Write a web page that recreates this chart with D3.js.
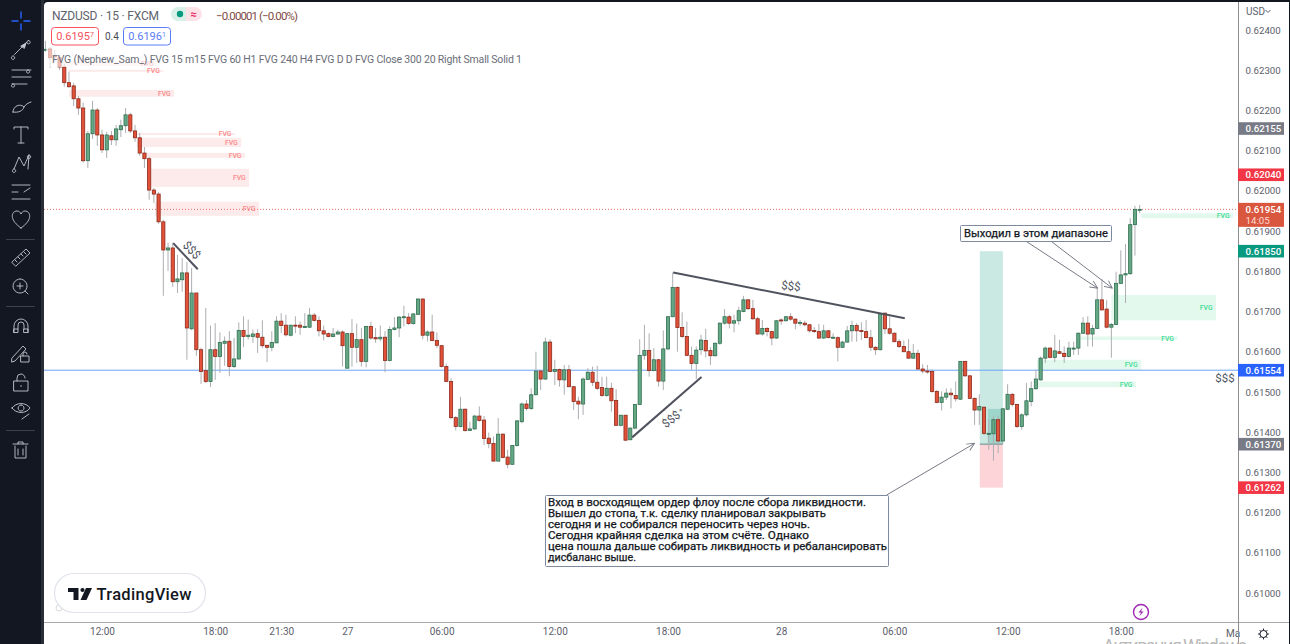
<!DOCTYPE html>
<html>
<head>
<meta charset="utf-8">
<title>NZDUSD 15</title>
<script src="https://cdn.jsdelivr.net/npm/d3@7/dist/d3.min.js"></script>
<style>
html,body{margin:0;padding:0;background:#fff;overflow:hidden}
svg{display:block}
text{font-family:Roboto,"Liberation Sans",sans-serif}
</style>
</head>
<body>
<svg id="chart" width="1290" height="644"></svg>
<script>
// Quote values are in points (1 point = 0.00001).
const opens = [
62350,62353,62336,62331,62308,62269,62261,62229,62206,62075,
62142,62201,62139,62102,62137,62127,62152,62162,62189,62149,
62132,62094,62080,62002,61992,61923,61853,61858,61774,61779,
61796,61657,61746,61605,61553,61526,61605,61588,61621,61626,
61563,61582,61653,61638,61638,61645,61636,61616,61611,61622,
61676,61666,61641,61666,61666,61660,61661,61691,61678,61652,
61645,61638,61644,61649,61559,61645,61611,61630,61576,61663,
61635,61632,61636,61578,61655,61659,61686,61686,61670,61693,
61731,61641,61649,61628,61615,61563,61526,61436,61414,61457,
61404,61408,61440,61430,61385,61372,61328,61395,61338,61320,
61367,61426,61470,61459,61493,61552,61532,61624,61551,61556,
61530,61555,61513,61477,61470,61531,61549,61524,61511,61491,
61509,61479,61417,61442,61381,61410,61469,61591,61603,61553,
61580,61527,61607,61687,61760,61660,61638,61591,61571,61605,
61628,61603,61590,61621,61671,61687,61671,61677,61700,61729,
61707,61682,61644,61658,61650,61634,61679,61677,61687,61681,
61671,61671,61667,61653,61650,61634,61652,61635,61635,61611,
61624,61652,61665,61653,61650,61635,61611,61605,61696,61657,
61646,61625,61613,61600,61584,61596,61557,61552,61551,61501,
61474,61487,61497,61491,61482,61576,61540,61484,61455,61462,
61396,61396,61431,61378,61457,61494,61469,61414,61443,61476,
61508,61530,61584,61609,61586,61600,61596,61588,61608,61609,
61646,61671,61644,61658,61729,61706,61661,61668,61770,61791,
61794,61916,61954];
const closes = [
62352,62331,62333,62308,62269,62259,62229,62206,62075,62142,
62201,62139,62102,62139,62127,62154,62162,62189,62149,62132,
62094,62080,62002,61992,61923,61853,61858,61774,61781,61796,
61659,61746,61605,61551,61526,61605,61588,61623,61626,61563,
61582,61653,61638,61641,61644,61636,61615,61611,61623,61676,
61665,61642,61666,61665,61661,61663,61691,61678,61652,61644,
61638,61644,61649,61615,61645,61611,61630,61576,61663,61634,
61632,61636,61578,61655,61659,61686,61687,61670,61694,61731,
61641,61649,61628,61616,61563,61526,61436,61414,61457,61404,
61408,61440,61429,61384,61372,61328,61395,61337,61320,61367,
61428,61470,61459,61493,61552,61532,61624,61551,61556,61530,
61555,61513,61476,61470,61532,61549,61524,61509,61491,61509,
61478,61417,61442,61380,61410,61469,61591,61603,61553,61580,
61527,61607,61687,61760,61660,61638,61591,61571,61604,61629,
61602,61590,61621,61671,61687,61671,61677,61702,61729,61707,
61682,61644,61658,61650,61634,61677,61677,61687,61681,61671,
61673,61667,61652,61650,61634,61652,61635,61636,61611,61624,
61652,61665,61652,61650,61635,61611,61605,61694,61657,61646,
61625,61613,61600,61584,61596,61557,61552,61551,61501,61474,
61487,61497,61493,61483,61576,61540,61484,61455,61464,61397,
61397,61431,61378,61458,61494,61469,61414,61443,61478,61508,
61532,61584,61609,61586,61602,61596,61588,61609,61609,61646,
61671,61644,61658,61729,61704,61661,61668,61770,61791,61794,
61916,61954,61954];
const highs = [
62373,62358,62351,62338,62316,62296,62269,62236,62219,62149,
62224,62206,62152,62147,62149,62164,62177,62206,62194,62164,
62144,62109,62085,62007,61997,61928,61871,61871,61841,61833,
61823,61808,61746,61610,61709,61665,61671,61648,61638,61651,
61634,61673,61688,61680,61655,61656,61678,61617,61651,61688,
61696,61692,61666,61688,61675,61696,61709,61696,61688,61665,
61648,61659,61655,61653,61645,61681,61670,61659,61663,61675,
61659,61665,61651,61663,61686,61689,61714,61696,61696,61733,
61733,61653,61692,61648,61617,61570,61534,61440,61488,61459,
61426,61443,61464,61440,61399,61389,61435,61397,61356,61368,
61430,61474,61480,61509,61600,61555,61635,61631,61580,61558,
61567,61567,61515,61488,61536,61559,61563,61565,61538,61538,
61523,61507,61443,61443,61412,61470,61631,61667,61646,61609,
61582,61653,61689,61797,61762,61698,61675,61613,61613,61642,
61657,61611,61623,61673,61706,61692,61692,61712,61739,61731,
61729,61687,61679,61661,61652,61679,61683,61689,61696,61683,
61679,61677,61669,61661,61669,61667,61654,61646,61638,61627,
61664,61677,61671,61673,61679,61654,61614,61697,61697,61687,
61648,61631,61628,61631,61619,61605,61569,61567,61556,61505,
61501,61509,61509,61526,61577,61577,61542,61486,61494,61464,
61431,61439,61441,61460,61519,61497,61470,61447,61522,61526,
61555,61588,61613,61611,61642,61630,61613,61625,61625,61648,
61686,61688,61667,61758,61781,61729,61671,61799,61852,61868,
61932,61963,61965];
const lows = [
62346,62306,62321,62301,62259,62256,62211,62189,62070,62057,
62129,62112,62094,62082,62114,62112,62134,62144,62144,62122,
62087,62057,61978,61970,61918,61739,61801,61761,61746,61749,
61580,61654,61590,61520,61522,61512,61530,61547,61565,61539,
61559,61580,61611,61630,61622,61597,61609,61574,61601,61622,
61646,61638,61638,61646,61642,61659,61659,61675,61638,61628,
61636,61636,61642,61563,61559,61563,61572,61563,61561,61630,
61622,61626,61549,61576,61653,61636,61663,61667,61667,61692,
61631,61626,61626,61609,61561,61526,61432,61404,61412,61401,
61403,61406,61426,61368,61360,61327,61327,61335,61310,61319,
61364,61422,61454,61455,61491,61505,61530,61549,61517,61513,
61493,61512,61455,61432,61443,61530,61515,61505,61488,61488,
61451,61416,61414,61378,61381,61407,61468,61580,61538,61551,
61513,61505,61604,61686,61600,61634,61590,61555,61532,61592,
61586,61567,61588,61617,61667,61658,61648,61667,61698,61704,
61679,61642,61640,61638,61616,61632,61667,61675,61677,61656,
61664,61663,61648,61646,61632,61632,61634,61632,61576,61610,
61622,61625,61625,61629,61634,61602,61592,61603,61644,61642,
61623,61609,61599,61582,61582,61556,61546,61545,61498,61472,
61454,61480,61459,61476,61480,61538,61483,61418,61418,61393,
61356,61329,61348,61372,61455,61464,61410,61406,61439,61464,
61505,61528,61572,61584,61574,61595,61572,61586,61592,61592,
61644,61613,61613,61657,61702,61658,61585,61666,61769,61721,
61791,61839,61944];

// Price axis ticks and time axis ticks (bar number -> label).
const priceTicks = [62400,62300,62200,62100,62000,61900,61800,61700,61600,61500,61400,61300,61200,61100,61000];
const timeBars = [12,36,50,64,84,108,132,156,180,204,228];
const timeNames = ["12:00","18:00","21:30","27","06:00","12:00","18:00","28","06:00","12:00","18:00"];

// Fair value gaps: first bar, last bar, upper and lower price.
const bearGapStart = [3.5,4.8,5,19.4,19.4,20.7,21.5,23.2];
const bearGapEnd   = [23.7,25,27.3,40.2,41.5,42.3,43.2,45.3];
const bearGapHigh  = [62323,62301,62251,62144,62132,62094,62055,61973];
const bearGapLow   = [62311,62296,62234,62139,62109,62082,62010,61938];
const bullGapStart = [232.3,226,219.5,210.2,210.2];
const bullGapEnd   = [251.8,248.2,240,232.3,231.2];
const bullGapHigh  = [61944,61741,61638,61580,61526];
const bullGapLow   = [61932,61678,61629,61555,61512];

// Long position tool.
const longBars = [198.1,203];
const longProfitBars = [199.8,203];
const longTarget = 61850, longEntry = 61370, longStop = 61262, longCurrent = 61458;

// Horizontal levels.
const lastPrice = 61954, blueLevel = 61554;

// Drawn lines: [bar, price, bar, price].
const trendLines = [
  [27.1,61870,32.3,61805],
  [124.4,61387,139.1,61537],
  [133.1,61797,182.2,61683]
];
const arrowLines = [
  [178.4,61244,197,61372],
  [208,61874,223.1,61758],
  [213.3,61874,226.2,61758]
];

// Tags on the price axis.
const tagValues = [62155,62040,61850,61554,61370,61262];
const tagColors = ["#787b86","#f23645","#089981","#2962ff","#787b86","#f23645"];

const noteLines = [
  "Вход в восходящем ордер флоу после сбора ликвидности.",
  "Вышел до стопа, т.к. сделку планировал закрывать",
  "сегодня и не собирался переносить через ночь.",
  "Сегодня крайняя сделка на этом счёте. Однако",
  "цена пошла дальше собирать ликвидность и ребалансировать",
  "дисбаланс выше."
];
const legendText = "FVG (Nephew_Sam_) FVG 15 m15 FVG 60 H1 FVG 240 H4 FVG D D FVG Close 300 20 Right Small Solid 1";

const W = 1290, H = 644, plotLeft = 44, plotRight = 1238, plotBottom = 622;
const x = d3.scaleLinear().domain([0,252]).range([45.4,1234]);
const y = d3.scaleLinear().domain([62400,61000]).range([30,593]);
const fmt = v => (v/100000).toFixed(5);

const svg = d3.select("#chart");
const defs = svg.append("defs");
defs.append("clipPath").attr("id","plot").append("rect")
  .attr("x",plotLeft).attr("y",0).attr("width",plotRight-plotLeft).attr("height",plotBottom);
defs.append("marker").attr("id","head").attr("viewBox","0 0 10 10")
  .attr("refX",9.5).attr("refY",5).attr("markerWidth",9).attr("markerHeight",9)
  .attr("markerUnits","userSpaceOnUse").attr("orient","auto")
  .append("path").attr("d","M1,1 L9.5,5 L1,9").attr("fill","none").attr("stroke","#787b86").attr("stroke-width",1);

svg.append("rect").attr("width",W).attr("height",H).attr("fill","#fff");
const plot = svg.append("g").attr("clip-path","url(#plot)");

// Fair value gap zones
function gaps(starts, ends, tops, bottoms, fill, ink){
  const g = plot.append("g");
  const idx = d3.range(starts.length);
  g.selectAll("rect").data(idx).join("rect")
    .attr("x",i=>x(starts[i])).attr("width",i=>x(ends[i])-x(starts[i]))
    .attr("y",i=>y(tops[i])).attr("height",i=>y(bottoms[i])-y(tops[i]))
    .attr("fill",fill);
  g.selectAll("text").data(idx).join("text")
    .attr("x",i=>x(ends[i])-3.5).attr("y",i=>(y(tops[i])+y(bottoms[i]))/2+2.4)
    .attr("text-anchor","end").attr("font-size",6.8).attr("font-weight",500)
    .attr("fill",ink).text("FVG");
}
gaps(bearGapStart,bearGapEnd,bearGapHigh,bearGapLow,"#fdeaea","#fb8a8a");
gaps(bullGapStart,bullGapEnd,bullGapHigh,bullGapLow,"#e3f9ee","#3fdc94");

// Long position tool
plot.append("rect").attr("x",x(longBars[0])).attr("width",x(longBars[1])-x(longBars[0]))
  .attr("y",y(longTarget)).attr("height",y(longEntry)-y(longTarget)).attr("fill","#cbe9e3");
plot.append("rect").attr("x",x(longBars[0])).attr("width",x(longBars[1])-x(longBars[0]))
  .attr("y",y(longEntry)).attr("height",y(longStop)-y(longEntry)).attr("fill","#fdd5d8");
plot.append("rect").attr("x",x(longProfitBars[0])).attr("width",x(longProfitBars[1])-x(longProfitBars[0]))
  .attr("y",y(longCurrent)).attr("height",y(longEntry)-y(longCurrent)).attr("fill","#9ed6cb");
plot.append("line").attr("x1",x(longBars[0])).attr("x2",x(longBars[1]))
  .attr("y1",y(longEntry)).attr("y2",y(longEntry)).attr("stroke","#8fa8a5").attr("stroke-width",1.5);

// Horizontal levels
plot.append("line").attr("x1",plotLeft).attr("x2",plotRight).attr("y1",y(blueLevel)).attr("y2",y(blueLevel))
  .attr("stroke","#6ba4f8").attr("stroke-width",1);
plot.append("line").attr("x1",plotLeft).attr("x2",plotRight).attr("y1",y(lastPrice)).attr("y2",y(lastPrice))
  .attr("stroke","#e0706a").attr("stroke-width",1).attr("stroke-dasharray","1 2");

// Candles
const bars = d3.range(opens.length);
const candles = plot.append("g");
candles.selectAll("line").data(bars).join("line")
  .attr("x1",i=>x(i)).attr("x2",i=>x(i))
  .attr("y1",i=>y(highs[i])).attr("y2",i=>y(lows[i]))
  .attr("stroke","#adaeb2").attr("stroke-width",1);
candles.selectAll("rect").data(bars).join("rect")
  .attr("x",i=>x(i)-1.6).attr("width",3.2)
  .attr("y",i=>y(Math.max(opens[i],closes[i])))
  .attr("height",i=>Math.max(1,Math.abs(y(opens[i])-y(closes[i]))))
  .attr("fill",i=>closes[i]>=opens[i]?"#66a885":"#e2513a")
  .attr("stroke",i=>closes[i]>=opens[i]?"#2f6f50":"#8c2a1a")
  .attr("stroke-width",.8);

// Trend lines
plot.selectAll("line.trend").data(trendLines).join("line").attr("class","trend")
  .attr("x1",d=>x(d[0])).attr("y1",d=>y(d[1])).attr("x2",d=>x(d[2])).attr("y2",d=>y(d[3]))
  .attr("stroke","#50535e").attr("stroke-width",2);

const liqLabels = [[192,250,46,"$$$"],[671,419,-38,"$$$"],[791,286,6,"$$$"],[1225,378,0,"$$$"]];
plot.selectAll("text.liq").data(liqLabels).join("text").attr("class","liq")
  .attr("transform",d=>`translate(${d[0]},${d[1]}) rotate(${d[2]})`)
  .attr("text-anchor","middle").attr("dy","0.35em")
  .attr("font-size",11.5).attr("fill","#50535e").text(d=>d[3]);
plot.append("text").attr("x",679).attr("y",412).attr("font-size",6).attr("fill","#50535e").text("×");

// Arrows
plot.selectAll("line.arrow").data(arrowLines).join("line").attr("class","arrow")
  .attr("x1",d=>x(d[0])).attr("y1",d=>y(d[1])).attr("x2",d=>x(d[2])).attr("y2",d=>y(d[3]))
  .attr("stroke","#787b86").attr("stroke-width",1).attr("marker-end","url(#head)");

// Callouts
const calloutFont = '"DejaVu Sans",sans-serif';
svg.append("rect").attr("x",960.5).attr("y",225.5).attr("width",151).attr("height",16)
  .attr("fill","#fff").attr("stroke","#7d8aa0").attr("rx",1);
svg.append("text").attr("x",1036).attr("y",237).attr("text-anchor","middle")
  .attr("font-family",calloutFont).attr("font-size",10.3).attr("fill","#131722")
  .attr("stroke","#131722").attr("stroke-width",.25)
  .attr("textLength",144).attr("lengthAdjust","spacingAndGlyphs")
  .text("Выходил в этом диапазоне");
svg.append("rect").attr("x",545.5).attr("y",495.5).attr("width",343).attr("height",71)
  .attr("fill","#fff").attr("stroke","#7d8aa0").attr("rx",1);
const noteLengths = [318,278,262,261,339,88];
svg.selectAll("text.note").data(noteLines).join("text").attr("class","note")
  .attr("x",548).attr("y",(d,i)=>506+i*11)
  .attr("font-family",calloutFont).attr("font-size",10).attr("fill","#131722")
  .attr("stroke","#131722").attr("stroke-width",.25)
  .attr("textLength",(d,i)=>noteLengths[i]).attr("lengthAdjust","spacingAndGlyphs")
  .text(d=>d);

// Veil under the legend rows
svg.append("rect").attr("x",46).attr("y",47).attr("width",480).attr("height",20).attr("fill","#fff").attr("opacity",.6);

// Header
svg.append("text").attr("x",52).attr("y",20).attr("font-size",12).attr("fill","#60636e")
  .attr("textLength",107).text("NZDUSD · 15 · FXCM");
const pill = svg.append("g");
pill.append("path").attr("d","M186,7 H178 A7,7 0 0 0 178,21 H186 Z").attr("fill","#d8f0e8");
pill.append("path").attr("d","M186,7 H195 A7,7 0 0 1 195,21 H186 Z").attr("fill","#fde3e8");
pill.append("circle").attr("cx",180).attr("cy",14).attr("r",3.2).attr("fill","#089981");
pill.append("text").attr("x",193.5).attr("y",17.5).attr("text-anchor","middle").attr("font-size",11).attr("font-weight",700).attr("fill","#e91e63").text("≈");
svg.append("text").attr("x",216).attr("y",20).attr("font-size",11.5).attr("fill","#7f4a46")
  .attr("textLength",82).text("−0.00001 (−0.00%)");

function quoteBox(left, color, main, tail){
  svg.append("rect").attr("x",left+.5).attr("y",27.5).attr("width",47).attr("height",17.5).attr("rx",3)
    .attr("fill","#fff").attr("stroke",color);
  const t = svg.append("text").attr("x",left+24).attr("y",40).attr("text-anchor","middle")
    .attr("font-size",11).attr("fill",color).text(main);
  t.append("tspan").attr("font-size",7).attr("dy",-3).text(tail);
}
quoteBox(51,"#f7525f","0.6195","7");
quoteBox(123,"#5b7cf7","0.6196","1");
svg.append("text").attr("x",105).attr("y",40).attr("font-size",10).attr("fill","#4a4d57").text("0.4");

svg.append("text").attr("x",52).attr("y",63).attr("font-size",10.5).attr("fill","#6a6d78")
  .attr("textLength",470).text(legendText);

// Watermark button
const logo = svg.append("g");
logo.append("circle").attr("cx",59).attr("cy",608).attr("r",3).attr("fill","none").attr("stroke","#d8d8d8");
logo.append("rect").attr("x",54.5).attr("y",573.5).attr("width",151).attr("height",39).attr("rx",19.5)
  .attr("fill","#fff").attr("stroke","#e0e3eb").attr("stroke-width",1.2);
logo.append("path").attr("d","M68,588 H78.5 V600 H73.5 V592 H68 Z").attr("fill","#131722");
logo.append("circle").attr("cx",82.5).attr("cy",590).attr("r",2.1).attr("fill","#131722");
logo.append("path").attr("d","M86,588 H92 L86.5,600 H80.5 Z").attr("fill","#131722");
logo.append("text").attr("x",96.5).attr("y",600).attr("font-size",16.5).attr("font-weight",500)
  .attr("fill","#131722").attr("textLength",95).attr("font-family",'Inter,Roboto,sans-serif').text("TradingView");

// Lightning badge
const bolt = svg.append("g").attr("transform","translate(1141,612)");
bolt.append("circle").attr("r",7.5).attr("fill","#fff").attr("stroke","#9c27b0").attr("stroke-width",1.4);
bolt.append("path").attr("d","M1.6,-4.2 L-2.6,0.6 H0 L-1.6,4.2 L2.6,-0.6 H0 Z").attr("fill","#9c27b0");

// Price axis
const priceAxis = d3.axisRight(y).tickValues(priceTicks).tickFormat(fmt).tickSize(0).tickPadding(0);
const pa = svg.append("g").attr("transform",`translate(${plotRight+7.5},0)`).call(priceAxis);
pa.select(".domain").remove();
pa.selectAll("text").attr("font-size",9.7).attr("fill","#5d606b")
  .attr("font-family","Roboto,sans-serif");

// Time axis
const timeAxis = d3.axisBottom(x).tickValues(timeBars).tickFormat((d,i)=>timeNames[i]).tickSize(0).tickPadding(0);
const ta = svg.append("g").attr("transform",`translate(0,${plotBottom+6})`).call(timeAxis);
ta.select(".domain").remove();
ta.selectAll("text").attr("font-size",10).attr("fill","#5d606b").attr("font-family","Roboto,sans-serif");
svg.append("text").attr("x",1226).attr("y",637).attr("font-size",10).attr("fill","#5d606b").text("Ma");

// Frame lines of the panes
svg.append("line").attr("x1",plotLeft).attr("x2",W).attr("y1",plotBottom+.5).attr("y2",plotBottom+.5).attr("stroke","#a8a8a8").attr("stroke-width",1.2);
svg.append("line").attr("x1",plotRight+.5).attr("x2",plotRight+.5).attr("y1",2).attr("y2",H).attr("stroke","#8e8e8e").attr("stroke-width",1);

svg.append("text").attr("x",1246).attr("y",15).attr("font-size",10).attr("fill","#5d606b").text("USD");
svg.append("path").attr("d","M1265.5,10 L1268,12.5 L1270.5,10").attr("fill","none").attr("stroke","#5d606b");

// Price tags
const tags = svg.append("g");
const tagRows = d3.range(tagValues.length);
tags.selectAll("rect").data(tagRows).join("rect")
  .attr("x",plotRight).attr("width",46).attr("height",12.6)
  .attr("y",i=>y(tagValues[i])-6.3).attr("fill",i=>tagColors[i]);
tags.selectAll("text").data(tagRows).join("text")
  .attr("x",plotRight+7.5).attr("y",i=>y(tagValues[i])+3.6)
  .attr("font-size",9.7).attr("font-weight",500).attr("fill","#fff").text(i=>fmt(tagValues[i]));
svg.append("rect").attr("x",plotRight).attr("width",46).attr("y",y(lastPrice)-6.5).attr("height",24).attr("fill","#d9573f");
svg.append("text").attr("x",plotRight+7.5).attr("y",y(lastPrice)+3.5).attr("font-size",9.7).attr("font-weight",500).attr("fill","#fff").text(fmt(lastPrice));
svg.append("text").attr("x",plotRight+7.5).attr("y",y(lastPrice)+14.5).attr("font-size",9.7).attr("fill","#ffd9d2").text("14:05");

// Left toolbar
svg.append("rect").attr("x",0).attr("y",0).attr("width",41).attr("height",H).attr("fill","#131722");
svg.append("rect").attr("x",41).attr("y",0).attr("width",3).attr("height",H).attr("fill","#2a2e39");
svg.append("path").attr("d","M44,0 H1290 V2 H48 Q44,2 44,6 Z").attr("fill","#131722");
svg.append("rect").attr("x",1289).attr("y",0).attr("width",1).attr("height",H).attr("fill","#131722");

const ink = "#c4c7cf";
const icons = svg.append("g").attr("fill","none").attr("stroke",ink).attr("stroke-width",.9)
  .attr("stroke-linecap","round").attr("stroke-linejoin","round");
icons.append("path").attr("stroke","#2962ff").attr("stroke-width",1.4)
  .attr("d","M21,12 V18 M21,24 V30 M12,21 H18 M24,21 H30");
icons.append("path").attr("d","M14.5,54.5 L27,42 M13,56 a1.7,1.7 0 1 0 .1,0 M28.5,40.5 a1.7,1.7 0 1 0 .1,0");
icons.append("path").attr("fill",ink).attr("d","M21,46 L26,43 L24.5,48 Z");
icons.append("path").attr("d","M12,70 H31 M12,77 H31 M12,84 H27 M13,84 a1.6,1.6 0 1 0 .1,0 M28,70 a1.6,1.6 0 1 0 .1,0");
icons.append("path").attr("d","M13,112 C13,106 20,103 24,107 C23,111 18,113 13,112 Z M24,107 C26,104 28,103 31,102");
icons.append("path").attr("d","M14,129 V127 H28 V129 M21,127 V143 M18,143 H24");
icons.append("path").attr("d","M14,169 L19,157 L24,166 L29,155 L28,169 M14,169 a1.7,1.7 0 1 0 .1,0 M29,155 a1.7,1.7 0 1 0 .1,0");
icons.append("path").attr("d","M12,185 H30 M12,192 H18 M24,192 L30,188 M12,199 H30");
icons.append("path").attr("d","M21,228 C8,219 12,211 17,211 C19,211 20,212 21,214 C22,212 23,211 25,211 C30,211 34,219 21,228 Z");
icons.append("path").attr("d","M6.5,239.5 H34.5 M6.5,306.5 H34.5 M6.5,430.5 H34.5").attr("stroke","#434651");
icons.append("path").attr("d","M12,262 L26,249 L30,253 L16,266 Z M15,260 L17,262 M18,257 L20,259 M21,254 L23,256 M24,252 L26,254");
icons.append("path").attr("d","M20,279 a7,7 0 1 0 .1,0 M25,291 L28,294 M17,286 H23 M20,283 V289");
icons.append("path").attr("d","M14,332.5 V326 a7,7 0 0 1 14,0 V332.5 M14,329 H18 V332.5 H14 Z M24,329 H28 V332.5 H24 Z M18,329 V325 a3,3 0 0 1 6,0 V329");
icons.append("path").attr("d","M12,358 L23,346 L26,349 L15,361 L12,362 Z M21,356 H29 V362 H21 Z M23,356 V354 a2,2 0 0 1 4,0");
icons.append("path").attr("d","M14,381 H28 V391 H14 Z M17,381 V378 a4,4 0 0 1 8,0 M20.5,386 H21.5");
icons.append("path").attr("d","M12,408 C16,402 26,402 30,408 C26,414 16,414 12,408 Z M21,405 a3,3 0 1 0 .1,0 M22,419 L29,414");
icons.append("path").attr("d","M15,446 V458 H26 V446 M13,444 H28 M18,444 V442 H23 V444 M18,449 V455 M23,449 V455");

// Gear on the axis corner
const gear = svg.append("g").attr("transform","translate(1263.5,634)").attr("fill","none").attr("stroke","#131722").attr("stroke-width",1);
gear.append("circle").attr("r",3.6);
gear.selectAll("line").data(d3.range(8)).join("line")
  .attr("x1",i=>3.6*Math.cos(i*Math.PI/4)).attr("y1",i=>3.6*Math.sin(i*Math.PI/4))
  .attr("x2",i=>5.4*Math.cos(i*Math.PI/4)).attr("y2",i=>5.4*Math.sin(i*Math.PI/4));

// System notice along the bottom edge
svg.append("text").attr("x",1103).attr("y",652).attr("font-family",'"Open Sans",sans-serif')
  .attr("font-size",18).attr("fill","#b8b8b8").attr("textLength",144).text("Активация Windows");
</script>
</body>
</html>
